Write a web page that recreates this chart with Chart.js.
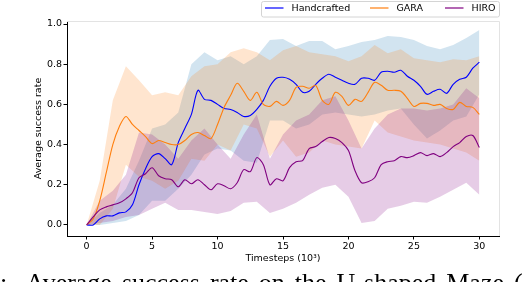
<!DOCTYPE html>
<html>
<head>
<meta charset="utf-8">
<script src="https://cdn.jsdelivr.net/npm/chart.js@4/dist/chart.umd.min.js"></script>
<style>
  html, body { margin: 0; padding: 0; background: #fff; overflow: hidden; }
  #wrap { position: relative; width: 532px; height: 282px; overflow: hidden; }
  #wrap canvas { position: absolute; left: 0; top: 0; }
  #caption {
    position: absolute; left: 0; top: 270px; white-space: pre;
    font-family: "Liberation Serif", "Times New Roman", serif;
    font-size: 26px; line-height: 26px; word-spacing: 3.5px; color: #000;
  }
</style>
</head>
<body>
<div id="wrap">
  <canvas id="chart" width="532" height="282"></canvas>
  <div id="caption">:  Average success rate on the U-shaped Maze (</div>
</div>
<script>
// x positions (10^3 timesteps)
const meanSteps = [0, 0.5, 1, 1.5, 2, 2.5, 3, 3.5, 4, 4.5, 5, 5.5, 6, 6.5, 7, 7.5, 8, 8.5, 9, 9.5,
    10, 10.5, 11, 11.5, 12, 12.5, 13, 13.5, 14, 14.5, 15, 15.5, 16, 16.5, 17, 17.5, 18, 18.5, 19, 19.5,
    20, 20.5, 21, 21.5, 22, 22.5, 23, 23.5, 24, 24.5, 25, 25.5, 26, 26.5, 27, 27.5, 28, 28.5, 29, 29.5, 30];
const bandSteps = [0, 1, 2, 3, 4, 5, 6, 7, 8, 9, 10, 11, 12, 13, 14, 15, 16, 17, 18, 19,
    20, 21, 22, 23, 24, 25, 26, 27, 28, 29, 30];

const labels = ['Handcrafted', 'GARA', 'HIRO'];
const xTicks = [0, 5, 10, 15, 20, 25, 30];
const yTicks = [0, 0.2, 0.4, 0.6, 0.8, 1.0];

// mean success rate
const handcraftedMean = [0, 0, 0.03, 0.045, 0.045, 0.06, 0.065, 0.10, 0.20, 0.28, 0.34, 0.355, 0.33, 0.30, 0.41, 0.48, 0.55, 0.67, 0.625, 0.62,
    0.60, 0.58, 0.575, 0.56, 0.54, 0.545, 0.575, 0.62, 0.69, 0.73, 0.735, 0.725, 0.70, 0.66, 0.665, 0.70, 0.73, 0.75, 0.735, 0.72,
    0.705, 0.70, 0.73, 0.73, 0.72, 0.76, 0.765, 0.76, 0.77, 0.74, 0.72, 0.69, 0.65, 0.665, 0.675, 0.655, 0.70, 0.725, 0.735, 0.78, 0.81];
const garaMean = [0, 0.03, 0.12, 0.26, 0.40, 0.49, 0.54, 0.50, 0.47, 0.44, 0.405, 0.42, 0.41, 0.40, 0.40, 0.42, 0.45, 0.46, 0.445, 0.43,
    0.50, 0.585, 0.645, 0.705, 0.665, 0.62, 0.66, 0.60, 0.59, 0.615, 0.595, 0.62, 0.685, 0.69, 0.68, 0.695, 0.62, 0.60, 0.66, 0.64,
    0.595, 0.625, 0.615, 0.66, 0.71, 0.695, 0.67, 0.67, 0.665, 0.63, 0.59, 0.605, 0.605, 0.595, 0.60, 0.58, 0.575, 0.61, 0.59, 0.585, 0.55];
const hiroMean = [0, 0.04, 0.075, 0.09, 0.10, 0.11, 0.13, 0.16, 0.235, 0.255, 0.285, 0.245, 0.23, 0.225, 0.19, 0.225, 0.205, 0.225, 0.20, 0.175,
    0.205, 0.195, 0.18, 0.21, 0.275, 0.265, 0.335, 0.30, 0.20, 0.23, 0.22, 0.285, 0.315, 0.32, 0.38, 0.39, 0.415, 0.435, 0.43, 0.41,
    0.37, 0.27, 0.21, 0.215, 0.235, 0.30, 0.315, 0.32, 0.34, 0.335, 0.345, 0.36, 0.345, 0.355, 0.34, 0.36, 0.39, 0.41, 0.44, 0.445, 0.385];

// shaded spread (upper / lower)
const handcraftedUpper = [0, 0.06, 0.10, 0.18, 0.32, 0.48, 0.50, 0.56, 0.80, 0.86, 0.82, 0.84, 0.80, 0.84, 0.92, 0.925,
    0.89, 0.915, 0.915, 0.875, 0.89, 0.91, 0.92, 0.94, 0.935, 0.92, 0.89, 0.875, 0.895, 0.93, 0.97];
const handcraftedLower = [0, 0, 0.01, 0.02, 0.05, 0.12, 0.12, 0.18, 0.25, 0.35, 0.38, 0.37, 0.32, 0.31, 0.52, 0.52,
    0.48, 0.50, 0.55, 0.56, 0.55, 0.54, 0.55, 0.57, 0.58, 0.50, 0.43, 0.47, 0.52, 0.54, 0.65];
const garaUpper = [0, 0.22, 0.62, 0.79, 0.72, 0.645, 0.66, 0.645, 0.74, 0.79, 0.80, 0.86, 0.88, 0.86, 0.82, 0.87,
    0.89, 0.86, 0.85, 0.84, 0.815, 0.84, 0.895, 0.855, 0.875, 0.83, 0.82, 0.81, 0.825, 0.82, 0.84];
const garaLower = [0, 0, 0.08, 0.30, 0.24, 0.22, 0.18, 0.22, 0.33, 0.32, 0.40, 0.37, 0.50, 0.48, 0.34, 0.42,
    0.34, 0.36, 0.42, 0.40, 0.39, 0.38, 0.52, 0.46, 0.44, 0.42, 0.41, 0.40, 0.38, 0.36, 0.32];
const hiroUpper = [0, 0.12, 0.17, 0.25, 0.46, 0.45, 0.40, 0.33, 0.42, 0.48, 0.40, 0.33, 0.45, 0.55, 0.33, 0.45,
    0.52, 0.55, 0.62, 0.64, 0.52, 0.38, 0.48, 0.55, 0.58, 0.58, 0.57, 0.58, 0.60, 0.68, 0.63];
const hiroLower = [0, 0.01, 0.02, 0.04, 0.05, 0.08, 0.11, 0.075, 0.075, 0.065, 0.055, 0.07, 0.11, 0.115, 0.06, 0.08,
    0.11, 0.15, 0.185, 0.20, 0.14, 0.01, 0.02, 0.08, 0.095, 0.115, 0.11, 0.14, 0.175, 0.21, 0.15];

const lineColors = ['#0000ff', '#ff7f0e', '#800080'];
const bandColors = ['rgba(31,119,180,0.2)', 'rgba(255,127,14,0.2)', 'rgba(128,0,128,0.2)'];

const pts = (xs, ys) => ys.map((y, i) => ({ x: xs[i], y: y }));

function bandDatasets(lower, upper, color, order) {
    return [
        { data: pts(bandSteps, lower), borderWidth: 0, borderColor: 'rgba(0,0,0,0)', pointRadius: 0,
          fill: false, tension: 0, order: order },
        { data: pts(bandSteps, upper), borderWidth: 0, borderColor: 'rgba(0,0,0,0)', pointRadius: 0,
          backgroundColor: color, fill: '-1', tension: 0, order: order }
    ];
}

function meanDataset(label, values, color, order) {
    return { label: label, data: pts(meanSteps, values), borderColor: color, borderWidth: 1.1,
             pointRadius: 0, fill: false, tension: 0.3, order: order };
}

const datasets = [
    ...bandDatasets(handcraftedLower, handcraftedUpper, bandColors[0], 9),
    ...bandDatasets(garaLower, garaUpper, bandColors[1], 8),
    ...bandDatasets(hiroLower, hiroUpper, bandColors[2], 7),
    meanDataset(labels[0], handcraftedMean, lineColors[0], 3),
    meanDataset(labels[1], garaMean, lineColors[1], 2),
    meanDataset(labels[2], hiroMean, lineColors[2], 1)
];

// light top/right frame + matplotlib style legend box
const frameAndLegend = {
    id: 'frameAndLegend',
    afterDraw(chart) {
        const { ctx, chartArea: a } = chart;
        ctx.save();
        ctx.strokeStyle = '#e3e3e3';
        ctx.lineWidth = 1;
        ctx.beginPath();
        ctx.moveTo(a.left, a.top + 0.5);
        ctx.lineTo(a.right + 0.5, a.top + 0.5);
        ctx.lineTo(a.right + 0.5, a.bottom);
        ctx.stroke();

        ctx.fillStyle = 'rgba(255,255,255,0.8)';
        ctx.strokeStyle = '#d4d4d4';
        ctx.beginPath();
        ctx.roundRect(261.5, 1.5, 238, 15.5, 2);
        ctx.fill();
        ctx.stroke();

        const starts = [265, 370, 445];
        ctx.font = '9.5px "DejaVu Sans"';
        ctx.textBaseline = 'middle';
        chart.data.datasets.filter(d => d.label).forEach((d, i) => {
            const x = starts[i];
            ctx.strokeStyle = d.borderColor;
            ctx.lineWidth = 1.2;
            ctx.beginPath();
            ctx.moveTo(x, 8);
            ctx.lineTo(x + 18.5, 8);
            ctx.stroke();
            ctx.fillStyle = '#000';
            ctx.fillText(d.label, x + 26.5, 8.5);
        });
        ctx.restore();
    }
};

Chart.defaults.font.family = '"DejaVu Sans", sans-serif';
Chart.defaults.font.size = 9.5;
Chart.defaults.color = '#000';

new Chart(document.getElementById('chart').getContext('2d'), {
    type: 'line',
    data: { datasets: datasets },
    options: {
        responsive: false,
        animation: false,
        layout: { padding: { top: 21, right: 33, bottom: 0, left: 0 } },
        plugins: { legend: { display: false }, tooltip: { enabled: false } },
        scales: {
            x: {
                type: 'linear', min: -1.5, max: 31.5,
                afterBuildTicks: s => { s.ticks = xTicks.map(v => ({ value: v })); },
                afterFit: s => { s.height = 46; },
                ticks: { padding: 1.5, maxRotation: 0, callback: v => String(v) },
                grid: { drawOnChartArea: false, tickLength: 3.5, color: '#000' },
                border: { color: '#000', width: 1 },
                title: { display: true, text: 'Timesteps (10³)', padding: { top: 0, bottom: 18 } }
            },
            y: {
                min: -0.055, max: 1.015,
                afterBuildTicks: s => { s.ticks = yTicks.map(v => ({ value: v })); },
                afterFit: s => { s.width = 67; },
                ticks: { padding: 1.5, callback: v => v.toFixed(1) },
                grid: { drawOnChartArea: false, tickLength: 3.5, color: '#000' },
                border: { color: '#000', width: 1 },
                title: { display: true, text: 'Average success rate', padding: { top: 33, bottom: 0 } }
            }
        }
    },
    plugins: [frameAndLegend]
});
</script>
</body>
</html>
